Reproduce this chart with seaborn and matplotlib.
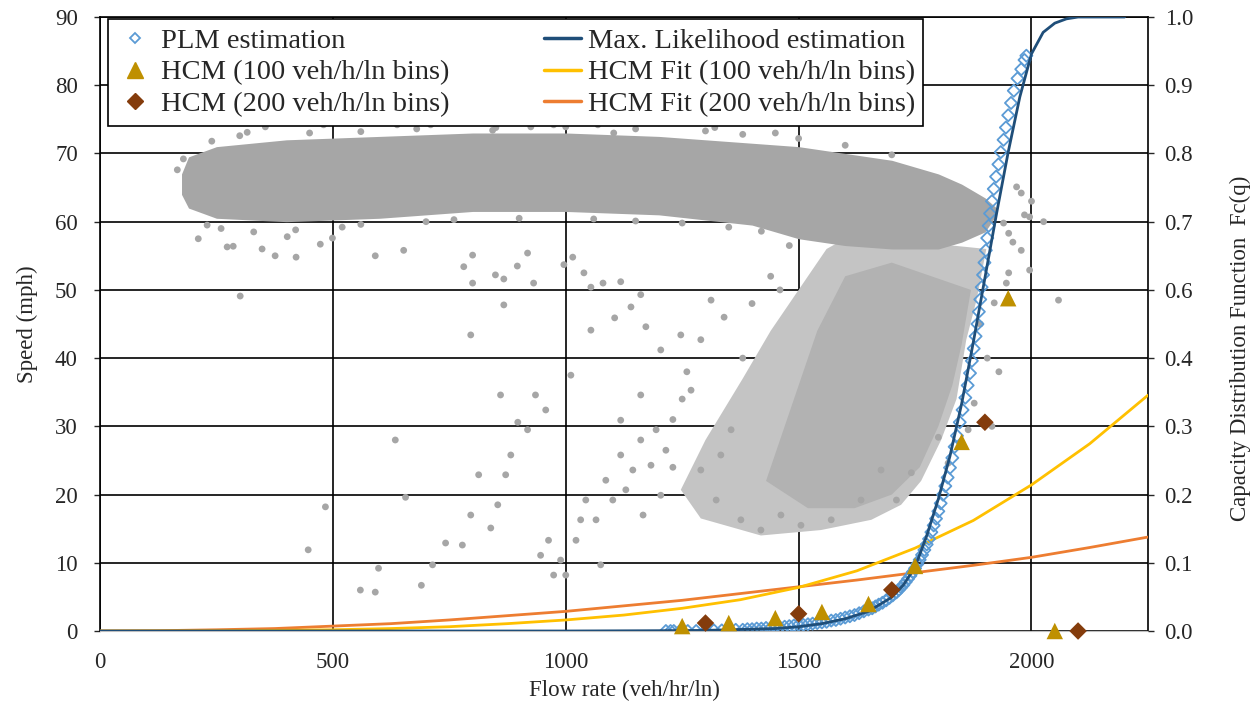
import numpy as np
import matplotlib
matplotlib.use("Agg")
import matplotlib.pyplot as plt
from matplotlib.lines import Line2D
from matplotlib.ticker import FormatStrFormatter
import seaborn as sns

sns.set_style("white")
plt.rcParams['font.family'] = ['Liberation Serif', 'DejaVu Serif']
plt.rcParams['font.size'] = 16.5

GRAY = '#A6A6A6'

# --- speed-flow observations (left axis) ---
# dense free-flow band: flow, lower / upper speed edge
band_flow = [175, 190, 250, 400, 600, 800, 1000, 1200, 1400, 1500, 1600, 1700, 1800, 1850, 1900, 1925]
band_low = [64, 62, 60.5, 60, 60.5, 61.5, 61.5, 61, 59.5, 57.5, 56.5, 56, 56, 57, 58.5, 61]
band_high = [67, 69.5, 71, 72, 72.5, 73, 73, 72.5, 71.5, 71, 70, 69, 67, 65.5, 63.5, 62]

# congested branch outline (flow, speed)
cong_flow = [1247, 1290, 1419, 1548, 1656, 1720, 1763, 1806, 1839, 1860, 1882, 1903, 1613, 1560, 1500, 1440, 1380, 1300]
cong_speed = [20.7, 16.5, 14, 14.8, 16.3, 18.5, 22, 28, 34, 42.7, 48.5, 56, 58, 56, 50, 44, 37, 28]
core_flow = [1430, 1520, 1620, 1700, 1760, 1800, 1830, 1850, 1870, 1700, 1600, 1540, 1480]
core_speed = [22, 18, 18, 20, 24, 30, 36, 42, 50, 54, 52, 44, 32]

# scattered individual observations
pts_flow = [166, 179, 187, 211, 273, 286, 301, 348, 376, 402, 421, 473, 499, 591, 652, 781, 800, 800,
            849, 867, 867, 896, 918, 931, 996, 1015, 1039, 1054, 1080, 1105, 1118, 1140, 1161, 1172,
            316, 355, 480, 638, 710, 843, 925, 974, 1069, 1103, 1200, 1320, 1450,
            484, 447, 559, 591, 598,
            634, 656, 690, 714, 742, 778, 796, 813, 839, 854, 871, 882, 897, 918, 935, 946, 963, 974,
            989, 1000, 1011, 1022, 1032, 1043, 1065, 1075, 1086, 1101, 1118, 1129, 1144, 1161, 1166,
            1183, 1194, 1204, 1215, 1118, 1161, 1204, 1247, 1290, 1269, 1312, 1054, 957, 860, 796,
            1290, 1333, 1355, 1323, 1376, 1419, 1462, 1505, 1570, 1634, 1677, 1710, 1230, 1260, 1380,
            1400, 1440, 1460, 1340, 1250, 1230,
            2026, 1996, 2058, 1996, 1978, 1968, 1951, 1946, 1920, 1940, 1978, 1951,
            1877, 1864, 1800, 1742, 1821, 1905, 1890, 1930, 1960, 1985, 2000, 1915,
            230, 260, 330, 420, 520, 560, 700, 760, 900, 1060, 1150, 1250, 1350, 1420, 1480,
            240, 300, 450, 560, 680, 850, 1000, 1150, 1300, 1380, 1500, 1600, 1700]
pts_speed = [67.6, 69.2, 66.1, 57.5, 56.3, 56.4, 49.1, 56, 55, 57.8, 54.8, 56.7, 57.6, 55, 55.8, 53.4, 51, 55.1,
             52.2, 51.6, 47.8, 53.5, 55.4, 51, 53.7, 54.8, 52.5, 50.4, 51, 45.9, 51.2, 47.5, 49.3, 44.6,
             73.1, 73.9, 74.2, 74.2, 74.2, 73.4, 73.9, 74.2, 74.2, 73, 74.5, 73.8, 73,
             18.2, 11.9, 6.0, 5.7, 9.2,
             28, 19.6, 6.7, 9.7, 12.9, 12.6, 17, 22.9, 15.1, 18.5, 22.9, 25.8, 30.6, 29.5, 34.6, 11.1, 13.3, 8.2,
             10.4, 8.2, 37.5, 13.3, 16.3, 19.2, 16.3, 9.7, 22.1, 19.2, 25.8, 20.7, 23.6, 28, 17,
             24.3, 29.5, 19.9, 26.5, 30.9, 34.6, 41.2, 43.4, 42.7, 35.3, 48.5, 44.1, 32.4, 34.6, 43.4,
             23.6, 25.8, 29.5, 19.2, 16.3, 14.8, 17, 15.5, 16.3, 19.2, 23.6, 19.2, 31, 38, 40,
             48, 52, 50, 46, 34, 24,
             60, 60.7, 48.5, 52.9, 64.2, 65.1, 52.5, 51, 48.1, 59.8, 55.8, 58.3,
             33.4, 29.5, 28.4, 23.2, 24.6, 40, 45, 38, 57, 61, 63, 30,
             59.5, 59, 58.5, 58.8, 59.2, 59.6, 60, 60.3, 60.5, 60.4, 60.1, 59.8, 59.2, 58.6, 56.5,
             71.8, 72.6, 73, 73.2, 73.6, 73.8, 73.9, 73.6, 73.3, 72.8, 72.2, 71.2, 69.8]

# --- capacity distribution (right axis) ---
plm_flow = [1215, 1225, 1232, 1245, 1262, 1280, 1300, 1318, 1335, 1350, 1365, 1380,
            1390, 1400, 1410, 1420, 1430, 1440, 1450, 1460, 1470, 1480, 1490, 1500, 1510, 1520,
            1530, 1540, 1550, 1560, 1570, 1580, 1590, 1600, 1610, 1620, 1630, 1640, 1650, 1658,
            1665, 1672, 1680, 1688, 1695, 1702, 1710, 1715, 1720, 1725, 1730, 1735, 1740, 1745,
            1750, 1755, 1760, 1765, 1770, 1775, 1780, 1785, 1790, 1795, 1800, 1805, 1810, 1815,
            1820, 1825, 1830, 1835, 1840, 1846, 1852, 1858, 1863, 1868, 1872, 1876, 1880, 1884,
            1887, 1890, 1893, 1896, 1899, 1902, 1905, 1908, 1911, 1915, 1919, 1924, 1929, 1934,
            1940, 1945, 1950, 1956, 1962, 1970, 1978, 1985, 1989]
plm_cdf = [0.0, 0.0, 0.0, 0.0, 0.0, 0.0, 0.001, 0.001, 0.001, 0.001, 0.002, 0.002,
           0.003, 0.003, 0.004, 0.004, 0.005, 0.005, 0.006, 0.006, 0.007, 0.008, 0.009, 0.010, 0.010, 0.011,
           0.012, 0.013, 0.014, 0.015, 0.017, 0.018, 0.020, 0.022, 0.024, 0.026, 0.029, 0.032, 0.035, 0.037,
           0.040, 0.043, 0.046, 0.050, 0.054, 0.058, 0.063, 0.067, 0.071, 0.075, 0.080, 0.085, 0.090, 0.096,
           0.102, 0.109, 0.116, 0.124, 0.132, 0.141, 0.150, 0.161, 0.172, 0.183, 0.195, 0.208, 0.222, 0.236,
           0.250, 0.266, 0.282, 0.300, 0.318, 0.34, 0.36, 0.38, 0.40, 0.42, 0.44, 0.46, 0.48, 0.50,
           0.52, 0.54, 0.56, 0.58, 0.60, 0.62, 0.64, 0.66, 0.68, 0.70, 0.72, 0.74, 0.76, 0.78,
           0.80, 0.82, 0.84, 0.86, 0.88, 0.90, 0.915, 0.93, 0.937]

ml_flow = [0, 500, 1000, 1200, 1300, 1400, 1450, 1500, 1550, 1600, 1650, 1700, 1725, 1750, 1775, 1800,
           1825, 1850, 1875, 1900, 1925, 1950, 1975, 2000, 2025, 2050, 2075, 2100, 2200]
ml_cdf = [0, 0, 0, 0.0005, 0.001, 0.003, 0.004, 0.007, 0.012, 0.02, 0.032, 0.055, 0.075, 0.104, 0.155, 0.215,
          0.285, 0.37, 0.47, 0.575, 0.68, 0.78, 0.87, 0.94, 0.975, 0.99, 0.997, 1.0, 1.0]

hcm100_flow = [1250, 1350, 1450, 1550, 1650, 1750, 1850, 1950, 2050]
hcm100_cdf = [0.008, 0.013, 0.021, 0.031, 0.044, 0.106, 0.308, 0.542, 0.0]
hcm200_flow = [1300, 1500, 1700, 1900, 2100]
hcm200_cdf = [0.013, 0.028, 0.067, 0.340, 0.0]

fit_flow = [0, 125, 250, 375, 500, 625, 750, 875, 1000, 1125, 1250, 1375, 1500, 1625, 1750, 1875, 2000, 2125, 2250]
fit100_cdf = [0, 0.0001, 0.0003, 0.001, 0.002, 0.004, 0.007, 0.012, 0.018, 0.026, 0.037, 0.051, 0.071,
              0.098, 0.135, 0.18, 0.238, 0.305, 0.384]
fit200_cdf = [0, 0.0005, 0.002, 0.004, 0.008, 0.012, 0.018, 0.025, 0.032, 0.041, 0.05, 0.061, 0.072,
              0.083, 0.095, 0.107, 0.12, 0.136, 0.153]

fig = plt.figure(figsize=(12.58, 7.09), dpi=100)
ax = fig.add_axes([0.0795, 0.110, 0.833, 0.866])

# gray observations
ax.fill(cong_flow, cong_speed, color='#C4C4C4', lw=0, zorder=1)
ax.fill(core_flow, core_speed, color='#B2B2B2', lw=0, zorder=1)
ax.fill_between(band_flow, band_low, band_high, color=GRAY, lw=0, zorder=1)
sns.scatterplot(x=pts_flow, y=pts_speed, color=GRAY, s=24, edgecolor='none', ax=ax, zorder=2)

ax.set_xlim(0, 2250)
ax.set_ylim(0, 90)
ax.set_xticks(range(0, 2001, 500))
ax.set_yticks(range(0, 91, 10))
ax.grid(True, color='black', linewidth=1.2)
ax.set_axisbelow(True)
ax.set_xlabel('Flow rate (veh/hr/ln)', fontsize=16.5, labelpad=5)
ax.set_ylabel('Speed (mph)', fontsize=16.5, labelpad=12)
for s in ['left', 'right', 'top']:
    ax.spines[s].set_color('black')
    ax.spines[s].set_linewidth(1.2)
ax.spines['bottom'].set_color('#BFBFBF')
ax.tick_params(axis='y', direction='out', length=4, width=1, labelsize=16.5, pad=12)
ax.tick_params(axis='x', length=0, labelsize=16.5, pad=15)

# capacity distribution curves
ax2 = ax.twinx()
sns.lineplot(x=fit_flow, y=fit200_cdf, color='#ED7D31', linewidth=2, ax=ax2, sort=False, estimator=None)
sns.lineplot(x=fit_flow, y=fit100_cdf, color='#FFC000', linewidth=2, ax=ax2, sort=False, estimator=None)
ax2.scatter(plm_flow, plm_cdf, marker='D', s=38, facecolors='none', edgecolors='#5B9BD5', linewidths=1.3, zorder=3)
sns.lineplot(x=ml_flow, y=ml_cdf, color='#1F4E79', linewidth=2, ax=ax2, sort=False, estimator=None, zorder=4)
sns.scatterplot(x=hcm100_flow, y=hcm100_cdf, marker='^', s=140, color='#BF9000', edgecolor='none',
                ax=ax2, zorder=5, clip_on=False)
sns.scatterplot(x=hcm200_flow, y=hcm200_cdf, marker='D', s=80, color='#843C0C', edgecolor='none',
                ax=ax2, zorder=5, clip_on=False)

ax2.set_ylim(0, 1)
ax2.set_yticks(np.linspace(0, 1, 10))
ax2.yaxis.set_major_formatter(FormatStrFormatter('%.1f'))
ax2.set_ylabel('Capacity Distribution Function  Fc(q)', fontsize=16.5, labelpad=24)
ax2.yaxis.set_label_coords(1.078, 0.46)
ax2.tick_params(axis='y', direction='out', length=4, width=1, labelsize=16.5, pad=8)
for s in ax2.spines.values():
    s.set_visible(False)

handles = [
    Line2D([], [], linestyle='none', marker='D', markersize=5, markerfacecolor='none',
           markeredgecolor='#5B9BD5', markeredgewidth=1.3),
    Line2D([], [], linestyle='none', marker='^', markersize=11, color='#BF9000'),
    Line2D([], [], linestyle='none', marker='D', markersize=8, color='#843C0C'),
    Line2D([], [], color='#1F4E79', linewidth=2.5),
    Line2D([], [], color='#FFC000', linewidth=2.5),
    Line2D([], [], color='#ED7D31', linewidth=2.5),
]
labels = ['PLM estimation', 'HCM (100 veh/h/ln bins)', 'HCM (200 veh/h/ln bins)',
          'Max. Likelihood estimation', 'HCM Fit (100 veh/h/ln bins)', 'HCM Fit (200 veh/h/ln bins)']
leg = ax2.legend(handles, labels, ncol=2, loc='upper left', bbox_to_anchor=(0.008, 0.996),
                 frameon=True, fancybox=False, framealpha=1, edgecolor='black', fontsize=20.5,
                 handlelength=1.3, columnspacing=3.3, labelspacing=0.2, borderpad=0.3,
                 handletextpad=0.25, borderaxespad=0)
leg.get_frame().set_linewidth(1.2)
leg.set_zorder(10)

fig.savefig('out.png', dpi=100)
